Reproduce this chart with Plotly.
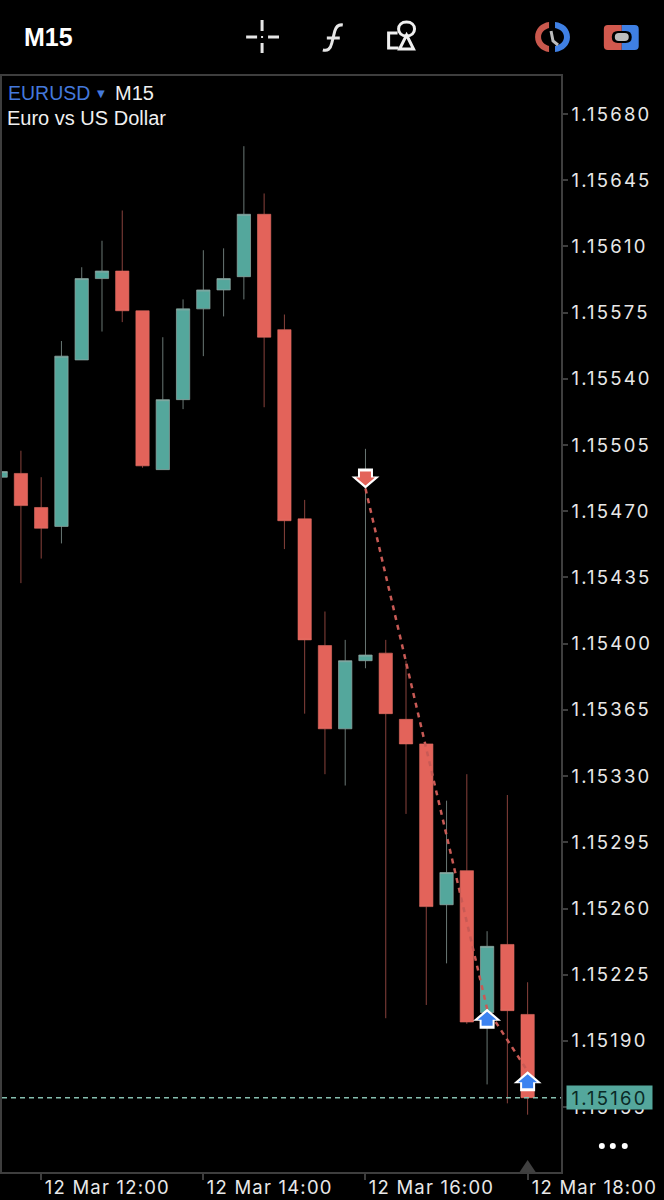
import plotly.graph_objects as go

# candles, 15 min each
times = ["2025-03-12 11:30", "2025-03-12 11:45", "2025-03-12 12:00", "2025-03-12 12:15",
         "2025-03-12 12:30", "2025-03-12 12:45", "2025-03-12 13:00", "2025-03-12 13:15",
         "2025-03-12 13:30", "2025-03-12 13:45", "2025-03-12 14:00", "2025-03-12 14:15",
         "2025-03-12 14:30", "2025-03-12 14:45", "2025-03-12 15:00", "2025-03-12 15:15",
         "2025-03-12 15:30", "2025-03-12 15:45", "2025-03-12 16:00", "2025-03-12 16:15",
         "2025-03-12 16:30", "2025-03-12 16:45", "2025-03-12 17:00", "2025-03-12 17:15",
         "2025-03-12 17:30", "2025-03-12 17:45", "2025-03-12 18:00"]
open_data = [1.15488, 1.15490, 1.15472, 1.15462, 1.15550, 1.15593, 1.15597, 1.15576, 1.15492,
             1.15529, 1.15577, 1.15587, 1.15594, 1.15627, 1.15566, 1.15466, 1.15399, 1.15355,
             1.15391, 1.15395, 1.15360, 1.15347, 1.15262, 1.15280, 1.15205, 1.15241, 1.15204]
high_data = [1.15491, 1.15502, 1.15488, 1.15560, 1.15599, 1.15613, 1.15629, 1.15576, 1.15562,
             1.15582, 1.15608, 1.15609, 1.15663, 1.15638, 1.15574, 1.15476, 1.15417, 1.15402,
             1.15503, 1.15402, 1.15391, 1.15347, 1.15317, 1.15331, 1.15248, 1.15320, 1.15221]
low_data = [1.15488, 1.15432, 1.15445, 1.15453, 1.15550, 1.15565, 1.15570, 1.15493, 1.15492,
            1.15524, 1.15552, 1.15573, 1.15582, 1.15525, 1.15450, 1.15363, 1.15331, 1.15325,
            1.15387, 1.15202, 1.15310, 1.15209, 1.15231, 1.15199, 1.15167, 1.15157, 1.15151]
close_data = [1.15491, 1.15473, 1.15461, 1.15552, 1.15593, 1.15597, 1.15576, 1.15494, 1.15529,
              1.15577, 1.15587, 1.15593, 1.15627, 1.15562, 1.15465, 1.15402, 1.15355, 1.15391,
              1.15394, 1.15363, 1.15347, 1.15261, 1.15279, 1.15200, 1.15240, 1.15206, 1.15160]

price_ticks = [1.15680, 1.15645, 1.15610, 1.15575, 1.15540, 1.15505, 1.15470, 1.15435, 1.15400,
               1.15365, 1.15330, 1.15295, 1.15260, 1.15225, 1.15190, 1.15155]
time_ticks = ["2025-03-12 12:00", "2025-03-12 14:00", "2025-03-12 16:00", "2025-03-12 18:00"]
time_labels = ["12 Mar 12:00", "12 Mar 14:00", "12 Mar 16:00", "12 Mar 18:00"]

# trades: sell then the two buys
trade_times = ["2025-03-12 16:00", "2025-03-12 17:30", "2025-03-12 18:00"]
trade_prices = [1.15482, 1.15207, 1.15174]
trade_sides = ["sell", "buy", "buy"]

current_price = 1.15160

RED = "#E3635A"
GREEN = "#54A79C"
BLUE = "#3B82F0"
FRAME = "#3e3e3e"
FONT = "Inter"

W, H = 664, 1200
LEFT, RIGHT, TOP, BOTTOM = 0, 561, 76, 1172


# screen pixels -> paper coords, for the toolbar stuff around the plot
def px(x):
    return (x - LEFT) / (RIGHT - LEFT)


def py(y):
    return (BOTTOM - y) / (BOTTOM - TOP)


def pp(s):
    out = []
    is_x = True
    for tok in s.split():
        if tok.isalpha():
            out.append(tok)
            is_x = True
        elif is_x:
            out.append(str(round(px(float(tok)), 5)))
            is_x = False
        else:
            out.append(str(round(py(float(tok)), 5)))
            is_x = True
    return " ".join(out)


shapes = []


def icon(path, fill=None, line=None, width=3):
    shapes.append(dict(type="path", xref="paper", yref="paper", path=pp(path),
                       fillcolor=fill or "rgba(0,0,0,0)",
                       line=dict(color=line or "rgba(0,0,0,0)", width=width if line else 0)))


def arrow(t, price, side):
    # tip sits on the trade price, drawn in pixels around it
    s = 1 if side == "sell" else -1
    color = RED if side == "sell" else BLUE
    outer = f"M 0 0 L 14 {12*s} L 7.5 {12*s} L 7.5 {20*s} L -7.5 {20*s} L -7.5 {12*s} L -14 {12*s} Z"
    inner = f"M 0 {3*s} L 9.5 {11*s} L 5.5 {11*s} L 5.5 {17*s} L -5.5 {17*s} L -5.5 {11*s} L -9.5 {11*s} Z"
    for path, c in ((outer, "white"), (inner, color)):
        shapes.append(dict(type="path", xref="x", yref="y", xsizemode="pixel", ysizemode="pixel",
                           xanchor=t, yanchor=price, path=path, fillcolor=c, line=dict(width=0)))


fig = go.Figure()

fig.add_trace(go.Candlestick(
    x=times, open=open_data, high=high_data, low=low_data, close=close_data,
    increasing=dict(fillcolor=GREEN, line=dict(color="rgba(150,170,165,0.7)", width=1)),
    decreasing=dict(fillcolor=RED, line=dict(color="rgba(227,110,100,0.6)", width=1)),
    whiskerwidth=0,
    showlegend=False,
))

# dashed trade line, sell -> buy -> buy
fig.add_trace(go.Scatter(
    x=trade_times, y=trade_prices, mode="lines",
    line=dict(color="#C85A55", width=2.5, dash="5px,5px"),
    showlegend=False,
))

# current price line
shapes.append(dict(type="line", xref="paper", yref="y", x0=0, x1=1, y0=current_price, y1=current_price,
                   line=dict(color="#86BFB0", width=1.5, dash="5px,4px")))

for t, p, side in zip(trade_times, trade_prices, trade_sides):
    arrow(t, p, side)

# small grey triangle on the time axis at the last bar
shapes.append(dict(type="path", xref="x", yref="paper", xsizemode="pixel", ysizemode="pixel",
                   xanchor=times[-1], yanchor=0, path="M -8 0 L 0 12 L 8 0 Z",
                   fillcolor="#404040", line=dict(width=0)))

# toolbar: crosshair
for seg in ["M 245 37 L 256 37", "M 267 37 L 278 37", "M 261 20 L 261 31", "M 261 43 L 261 53"]:
    icon(seg, line="#e6e6e6", width=3)
icon("M 260 36 L 262 36 L 262 38 L 260 38 Z", fill="#e6e6e6")
# f
icon("M 322 50 Q 329 52 331 43 L 334 31 Q 336 24 342 25", line="#e6e6e6", width=3)
icon("M 326 38 L 339 38", line="#e6e6e6", width=3)
# objects
icon("M 397 33 L 388 33 L 388 48 L 398 48", line="#f0f0f0", width=3)
icon("M 406 35 L 413 49 L 399 49 Z", line="#f0f0f0", width=3)
icon("M 406 22 C 411 22 414 25 414 29 C 414 33 411 36 406 36 C 401 36 398 33 398 29 C 398 25 401 22 406 22 Z",
     line="#f0f0f0", width=3)
# clock
icon("M 549 22 C 541 23 535 29 535 37 C 535 45 541 51 549 52 L 549 46 C 545 45 541 42 541 37 C 541 32 545 29 549 28 Z",
     fill="#C9584D")
icon("M 555 22 C 564 23 570 29 570 37 C 570 45 564 51 555 52 L 555 46 C 560 45 564 42 564 37 C 564 32 560 29 555 28 Z",
     fill="#3F80E4")
icon("M 551 31 L 553 41 L 558 45", line="#bdbdbd", width=3)
# toggle
icon("M 622 25 L 608 25 Q 604 25 604 29 L 604 46 Q 604 50 608 50 L 622 50 Z", fill="#D2594E")
icon("M 622 25 L 635 25 Q 639 25 639 29 L 639 46 Q 639 50 635 50 L 622 50 Z", fill="#3F80E4")
icon("M 618 31 L 626 31 Q 632 31 632 37 Q 632 43 626 43 L 618 43 Q 612 43 612 37 Q 612 31 618 31 Z", fill="#000000")
icon("M 619 33 L 625 33 Q 629 33 629 37 Q 629 41 625 41 L 619 41 Q 615 41 615 37 Q 615 33 619 33 Z", fill="#bdbdbd")
# three dots
for cx in (602, 613, 625):
    shapes.append(dict(type="circle", xref="paper", yref="paper", x0=px(cx - 3), x1=px(cx + 3),
                       y0=py(1149), y1=py(1143), fillcolor="white", line=dict(width=0)))

annotations = [
    dict(x=px(20), y=py(37), xref="paper", yref="paper", xanchor="left", yanchor="middle", showarrow=False,
         text="<b>M15</b>", font=dict(family="Liberation Sans", size=25, color="white")),
    dict(x=px(4), y=py(93), xref="paper", yref="paper", xanchor="left", yanchor="middle", showarrow=False,
         text="EURUSD", font=dict(family="Liberation Sans", size=19.5, color="#4479DC")),
    dict(x=px(93), y=py(94), xref="paper", yref="paper", xanchor="left", yanchor="middle", showarrow=False,
         text="▼", font=dict(family="DejaVu Sans", size=10, color="#4479DC")),
    dict(x=px(111), y=py(93), xref="paper", yref="paper", xanchor="left", yanchor="middle", showarrow=False,
         text="M15", font=dict(family="Liberation Sans", size=20, color="#f0f0f0")),
    dict(x=px(3), y=py(118), xref="paper", yref="paper", xanchor="left", yanchor="middle", showarrow=False,
         text="Euro vs US Dollar", font=dict(family="Liberation Sans", size=20, color="#f0f0f0")),
    # price box on the axis
    dict(x=px(566), y=current_price, xref="paper", yref="y", xanchor="left", yanchor="middle", showarrow=False,
         text=f"{current_price:.5f}", font=dict(family=FONT, size=18.5, color="#0a2a26"),
         bgcolor=GREEN, width=85, height=23, borderpad=0),
]
for t, label in zip(time_ticks, time_labels):
    annotations.append(dict(x=t, y=py(1187), xref="x", yref="paper", xanchor="left", yanchor="middle",
                            xshift=9, showarrow=False, text=label,
                            font=dict(family=FONT, size=18.5, color="#e8e8e8")))

fig.update_layout(
    width=W, height=H,
    margin=dict(l=LEFT, r=W - RIGHT, t=TOP, b=H - BOTTOM, pad=0),
    paper_bgcolor="black", plot_bgcolor="black",
    showlegend=False,
    boxgap=0.19, boxgroupgap=0.19,
    shapes=shapes,
    annotations=annotations,
    xaxis=dict(
        type="date",
        range=["2025-03-12 11:31:00", "2025-03-12 18:24:42"],
        rangeslider=dict(visible=False),
        tickvals=time_ticks, showticklabels=False,
        ticks="outside", ticklen=6, tickcolor=FRAME, tickwidth=1.5,
        showgrid=False, zeroline=False,
        showline=True, linecolor=FRAME, linewidth=1.5, mirror=True,
    ),
    yaxis=dict(
        side="right",
        range=[1.151207, 1.157001],
        tickvals=price_ticks, tickformat=".5f",
        ticks="outside", ticklen=5, tickcolor=FRAME, tickwidth=1.5,
        tickfont=dict(family=FONT, size=18.5, color="#e8e8e8"),
        showgrid=False, zeroline=False,
        showline=True, linecolor=FRAME, linewidth=1.5, mirror=True,
    ),
)

# the app spaces its numbers out, plotly has no setting for that
post = """
document.body.style.margin='0';
document.querySelectorAll('svg text').forEach(function (t) {
  var s = t.textContent;
  if (/^1\\.15/.test(s)) t.style.letterSpacing = '2.2px';
  else if (/^12 Mar/.test(s)) t.style.letterSpacing = '1.2px';
});
"""
fig.write_html("out.html", config=dict(displayModeBar=False), post_script=post)
